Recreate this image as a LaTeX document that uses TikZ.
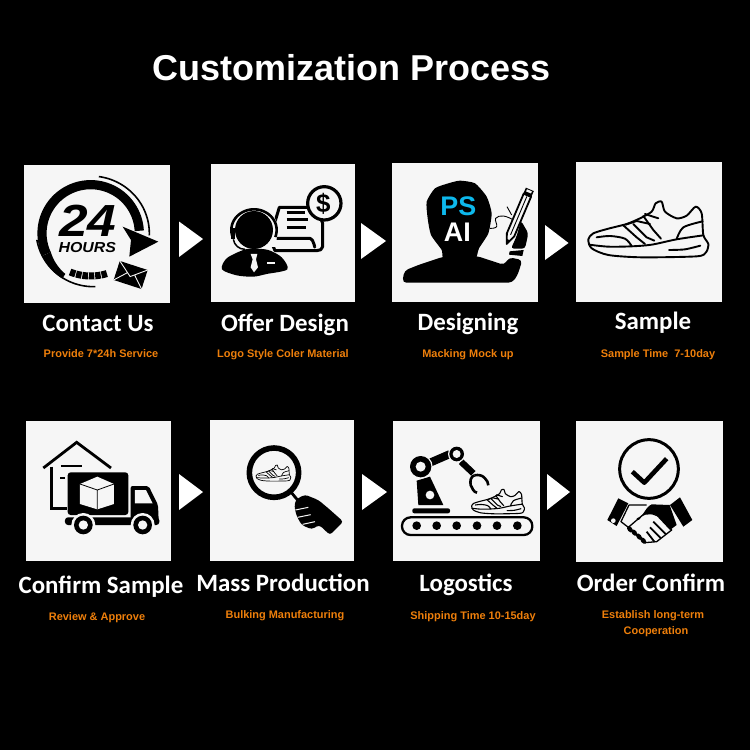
\documentclass[tikz,border=0pt]{standalone}
\usepackage{graphicx}
\usepackage{fontspec}
\setmainfont{Liberation Sans}
\newfontfamily\headfont{Carlito}
\definecolor{panel}{HTML}{F6F6F6}
\definecolor{subcol}{HTML}{EE7F0B}
\definecolor{pscyan}{HTML}{0DB8EC}
\newcommand{\shoeicon}[4]{% x, y, scale, line width
\begin{scope}[shift={(#1,#2)},scale=#3,shift={(-640,-155)},line width=#4,line join=round,line cap=round]
\draw[black,fill=panel] plot[smooth cycle,tension=.45] coordinates {(640,268)(655,250)(700,236)(755,222)(795,205)(830,185)(842,160)(860,155)(870,185)(905,205)(935,197)(962,170)(980,190)(985,255)(1000,282)(993,307)(965,319)(800,322)(700,315)(650,295)};
\draw plot[smooth,tension=.5] coordinates {(642,284)(700,290)(770,289)(830,284)(905,268)(985,256)};
\draw plot[smooth,tension=.5] coordinates {(905,267)(925,232)(983,214)};
\draw plot[smooth,tension=.5] coordinates {(665,262)(705,258)(750,266)(770,288)};
\draw (745,226)--(785,262)--(810,282);
\draw (775,222)--(815,262)--(838,272);
\draw (805,198)--(835,240)--(858,266);
\draw (752,224)--(785,213)(785,213)--(825,222)(810,192)--(850,205);
\draw plot[smooth,tension=.5] coordinates {(882,300)(930,298)(976,287)};
\end{scope}}
\tikzset{
  zA/.style={shift={(0,150)},x=0.33333bp,y=-0.33333bp},
  zB/.style={shift={(375,150)},x=0.33333bp,y=-0.33333bp},
  zC/.style={shift={(0,410)},x=0.33333bp,y=-0.33333bp},
  zD/.style={shift={(375,410)},x=0.33333bp,y=-0.33333bp},
  head/.style={text=white,anchor=base,inner sep=0pt,font=\headfont\bfseries\fontsize{25}{25}\selectfont},
  sub/.style={text=subcol,anchor=base,inner sep=0pt,font=\bfseries\fontsize{11}{11}\selectfont},
  panelbox/.style={fill=panel,draw=none},
  tri/.style={fill=white,draw=none}
}
\begin{document}
\begin{tikzpicture}[x=1bp,y=-1bp]
\fill[black] (0,0) rectangle (750,750);
\useasboundingbox (0,0) rectangle (750,750);
\node[text=white,anchor=base,inner sep=0pt,font=\bfseries\fontsize{36.1}{36.1}\selectfont] (title) at (351.5,80) {Customization Process};
% panels
\fill[panelbox] (24,165) rectangle (170,303);
\fill[panelbox] (211,164) rectangle (355,302);
\fill[panelbox] (392,163) rectangle (538,302);
\fill[panelbox] (576,162) rectangle (722,302);
\fill[panelbox] (26,421) rectangle (171,561);
\fill[panelbox] (210,420) rectangle (354,561);
\fill[panelbox] (393,421) rectangle (540,561);
\fill[panelbox] (576,421) rectangle (723,562);
% arrows
\fill[tri] (179,221.5)--(203,239)--(179,257)--cycle;
\fill[tri] (361,223)--(386,241)--(361,259)--cycle;
\fill[tri] (545,225)--(568.5,243)--(545,260)--cycle;
\fill[tri] (179,474)--(203,492)--(179,510)--cycle;
\fill[tri] (362,474)--(387,492)--(362,510)--cycle;
\fill[tri] (547,474)--(570,492)--(547,510)--cycle;
% ---- icon 1
\begin{scope}[zA]
\draw[line width=9.2bp] plot[domain=3:205,samples=60] ({272+146*cos(\x)},{250-146*sin(\x)});
\fill plot[domain=205:238,samples=20] ({272+160*cos(\x)},{250-160*sin(\x)}) -- plot[domain=238:205,samples=20] ({272+(132+(\x-205)*0.35)*cos(\x)},{250-(132+(\x-205)*0.35)*sin(\x)}) -- cycle;
\draw[line width=1.6bp] plot[domain=-2:82,samples=40] ({272+176*cos(\x)},{250-172*sin(\x)});
\draw[line width=1.6bp] plot[domain=190:272,samples=40] ({280+172*cos(\x)},{240-170*sin(\x)});
\fill (368,230)--(475,275)--(388,320)--(393,270)--cycle;
\draw[line width=7bp,dash pattern=on 5.5bp off 0.9bp] plot[domain=245:290,samples=20] ({272+146*cos(\x)},{250-128*sin(\x)});
\fill[rotate around={-18:(392,375)}] (348,345) rectangle (436,405);
\draw[panel,line width=.9bp,rotate around={-18:(392,375)}] (348,345)--(392,380)--(436,345) (348,405)--(380,372) (436,405)--(404,372);
\node[inner sep=0pt,anchor=base,font=\bfseries\itshape\fontsize{43}{43}\selectfont] (h24) at (263,260) {\scalebox{1.2}[1.05]{24}};
\node[inner sep=0pt,anchor=base,font=\bfseries\itshape\fontsize{14.5}{14.5}\selectfont] (hrs) at (262,308) {\scalebox{1.1}[1]{HOURS}};
\end{scope}
% ---- icon 2
\begin{scope}[zA,line join=round]
\draw[line width=3bp,fill=panel] (838,172)--(950,172)--(968,220)--(968,290) to[out=-90,in=0] (950,302)--(825,302)--(810,265)--cycle;
\fill[panel] (800,230) rectangle (835,292);
\draw[line width=3bp] (860,188)--(915,188) (860,210)--(925,210) (860,232)--(918,232);
\draw[line width=3bp] (830,265)--(930,265) to[out=0,in=-90] (945,290);
\fill[panel] (762,240) circle (72);
\draw[line width=2.6bp] plot[domain=-20:200,samples=40] ({762+68*cos(\x)},{240-62*sin(\x)});
\fill (762,240) circle (57);
\fill (692,235) rectangle (705,268);
\draw[line width=1.5bp] (700,268) to[out=-80,in=180] (735,298);
\fill plot[smooth cycle,tension=.5] coordinates {(666,358)(680,325)(730,300)(760,296)(805,300)(845,322)(862,358)(800,372)(760,380)(710,376)};
\fill[panel] (752,312)--(772,312)--(768,328)--(774,352)--(762,367)--(752,352)--(758,328)--cycle;
\fill[panel] (800,335) rectangle (824,343);
\draw[line width=3.2bp,fill=panel] (973,160) circle (50);
\node[inner sep=0pt,font=\bfseries\fontsize{26}{26}\selectfont] (dollar) at (970,162) {\$};
\end{scope}
% ---- icon 3
\begin{scope}[zB,line join=round]
\fill plot[smooth cycle,tension=.35] coordinates {(255,92)(300,100)(335,140)(350,190)(340,250)(312,295)(300,330)(250,350)(205,325)(200,300)(168,255)(158,205)(155,155)(180,115)(220,100)};
\fill[rounded corners=4pt] (205,320)--(130,345)--(88,362)--(82,398)--(412,398)--(428,375)--(442,330)--(402,322)--(388,345)--(305,318)--cycle;
\draw[line width=.9bp] plot[smooth,tension=.7] coordinates {(345,235)(365,230)(362,205)(385,198)(412,208)};
\draw[line width=.9bp] (396,170)--(410,195);
\begin{scope}[shift={(395,282)},rotate=-23]
\draw[line width=1.8bp,fill=panel] (0,0)--(-12,-30)--(-12,-160)--(12,-160)--(12,-30)--cycle;
\fill (0,0)--(-5,-14)--(5,-14)--cycle;
\fill (-13,-178)--(13,-178)--(13,-156)--(-13,-156)--cycle;
\draw[line width=.9bp] (0,-30)--(0,-155);
\fill[panel] (-8,-175) rectangle (8,-168);
\end{scope}
\fill[rounded corners=3pt] (408,296)--(425,258)--(438,212)--(460,250)--(450,296)--cycle;
\fill (404,304)--(446,300)--(442,318)--(402,314)--cycle;
\node[inner sep=0pt,anchor=base,text=pscyan,font=\bfseries\fontsize{27}{27}\selectfont] (ps) at (250,198) {PS};
\node[inner sep=0pt,anchor=base,text=white,font=\bfseries\fontsize{27}{27}\selectfont] (ai) at (247,275) {AI};
\end{scope}
% ---- icon 4
\begin{scope}[zB]
\shoeicon{640}{155}{1}{1.9bp}
\end{scope}
% ---- icon 5
\begin{scope}[zC,line join=miter]
\draw[line width=2.8bp] (130,174)--(230,97)--(333,174);
\draw[line width=2.8bp] (155,170)--(155,295)--(200,295);
\draw[line width=2bp] (183,169)--(246,169) (181,203)--(195,203);
\fill[rounded corners=3pt] (203,187) rectangle (385,315);
\fill[panel] (292,200)--(342,222)--(342,282)--(292,298)--(240,282)--(240,222)--cycle;
\draw[line width=.8bp] (240,222)--(292,240)--(342,222) (292,240)--(292,298);
\fill[rounded corners=2pt] (392,228)--(446,228)--(474,285)--(476,330)--(392,330)--cycle;
\fill[panel] (405,240)--(438,240)--(458,280)--(405,280)--cycle;
\fill[rounded corners=3pt] (195,322) rectangle (478,345);
\fill[panel] (250,345) circle (36);
\fill[panel] (428,345) circle (36);
\fill (250,345) circle (28);
\fill (428,345) circle (28);
\fill[panel] (250,345) circle (14);
\fill[panel] (428,345) circle (14);
\end{scope}
% ---- icon 6
\begin{scope}[zC,line join=round]
\draw[line width=5.6bp] (822,188) circle (74);
\draw[line width=2.8bp] (872,245)--(905,285);
\fill[rounded corners=3pt] (888,268)--(915,254)--(955,270)--(985,295)--(1030,335)--(990,375)--(958,345)--(935,358)--(905,345)--(890,318)--(883,290)--cycle;
\draw[panel,line width=1bp] (886,300)--(925,292) (893,322)--(932,314) (908,343)--(945,335);
\shoeicon{768}{165}{0.29}{0.7bp}
\end{scope}
% ---- icon 7
\begin{scope}[zD,line join=round]
\draw[line width=2.3bp,rounded corners=8.5bp] (81,322) rectangle (472,375);
\foreach \px in {125,185,245,306,366,427} \fill (\px,347) circle (13);
\fill[rounded corners=2pt] (112,295) rectangle (225,310);
\fill (125,212)--(165,200)--(205,285)--(130,285)--cycle;
\fill[panel] (165,255) circle (13);
\draw[line width=8bp] (165,158)--(225,132);
\draw[line width=6.4bp] (258,155)--(295,190);
\fill[panel] (137,170) circle (36);
\fill (137,170) circle (32);
\fill[panel] (137,170) circle (15);
\fill[panel] (245,132) circle (26);
\fill (245,132) circle (22);
\fill[panel] (245,132) circle (12);
\draw[line width=2.6bp] (298,196) to[out=200,in=100] (287,225) to[out=-60,in=170] (306,248);
\draw[line width=2.6bp] (298,196) to[out=10,in=130] (330,205) to[out=-50,in=90] (340,226);
\shoeicon{290}{238}{0.44}{1.1bp}
\end{scope}
% ---- icon 8
\begin{scope}[zD,line join=round]
\draw[line width=3bp] (822,177) circle (88);
\draw[line width=4.6bp] (772,185)--(808,218)--(875,146);
\fill (730,265)--(760,280)--(725,348)--(697,330)--cycle;
\fill[panel] (715,332) circle (7);
\fill (915,262)--(952,330)--(925,350)--(885,285)--cycle;
\draw[line width=1.3bp] (762,285)--(815,285) (762,285)--(738,335)--(760,352);
\draw[line width=1.3bp,fill=panel] (760,352)--(810,398)--(845,395)--(890,360)--(855,320)--(815,305)--cycle;
\fill (785,325) to[out=-70,in=200] (830,283)--(884,285)--(905,345)--(885,360)--(840,312)--(812,314)--cycle;
\draw[line width=1.8bp] (835,335)--(872,372) (825,352)--(857,384) (815,365)--(838,395);
\foreach \cx/\cy in {765/358,778/368,792/380,805/392} \fill[rotate around={40:(\cx,\cy)}] (\cx,\cy) ellipse (7 and 11);
\end{scope}
% labels
\node[head] (t1) at (98,331.5) {Contact Us};
\node[head] (t2) at (285,331) {Offer Design};
\node[head] (t3) at (468,330) {Designing};
\node[head] (t4) at (653,329) {Sample};
\node[head] (t5) at (101,593) {Confirm Sample};
\node[head] (t6) at (283,591) {Mass Production};
\node[head] (t7) at (466,591) {Logostics};
\node[head] (t8) at (651,591) {Order Confirm};
\node[sub] (s1) at (101,357.5) {Provide 7*24h Service};
\node[sub] (s2) at (283,357) {Logo Style Coler Material};
\node[sub] (s3) at (468,357) {Macking Mock up};
\node[sub] (s4) at (658,357) {Sample Time~~7-10day};
\node[sub] (s5) at (97,620) {Review \& Approve};
\node[sub] (s6) at (285,618) {Bulking Manufacturing};
\node[sub] (s7) at (473,619) {Shipping Time 10-15day};
\node[sub] (s8) at (653,618) {Establish long-term};
\node[sub] (s9) at (656,634) {Cooperation};
\end{tikzpicture}
\end{document}
